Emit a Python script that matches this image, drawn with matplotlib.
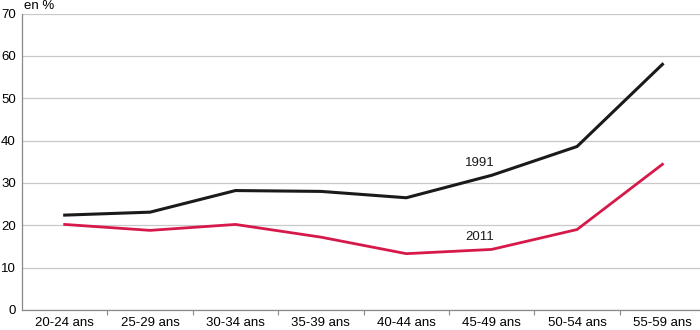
import matplotlib
matplotlib.use("Agg")
import matplotlib.pyplot as plt
import numpy as np

categories = ["20-24 ans", "25-29 ans", "30-34 ans", "35-39 ans",
              "40-44 ans", "45-49 ans", "50-54 ans", "55-59 ans"]
v1991 = [22.4, 23.1, 28.2, 28.0, 26.5, 31.8, 38.6, 58.0]
v2011 = [20.2, 18.8, 20.2, 17.2, 13.3, 14.3, 19.0, 34.4]
yticks = [0, 10, 20, 30, 40, 50, 60, 70]

plt.rcParams['font.family'] = ['Liberation Sans', 'DejaVu Sans']

fig = plt.figure(figsize=(7, 3.3), dpi=100)
ax = fig.add_axes([22/700, 20/330, 678/700, 296.5/330])

x = np.arange(len(categories))
ax.plot(x, v1991, color="#1a1a1a", lw=2.2, solid_joinstyle="miter")
ax.plot(x, v2011, color="#d7194a", lw=2.0, solid_joinstyle="miter")

ax.text(5 - 0.14, 31.8 + 1.6, "1991", fontsize=9.5, ha="center", va="bottom", color="#1a1a1a")
ax.text(5 - 0.14, 14.3 + 1.4, "2011", fontsize=9.5, ha="center", va="bottom", color="#1a1a1a")

ax.set_xlim(-0.5, 7.44)
ax.set_ylim(0, 70)
ax.set_yticks(yticks)
ax.set_yticklabels([str(t) for t in yticks], fontsize=9.5)
ax.tick_params(axis="y", length=0, pad=4.5)
ax.set_xticks(x)
ax.set_xticklabels(categories, fontsize=9.5)
ax.tick_params(axis="x", which="major", length=0, pad=5)
ax.set_xticks(np.arange(0.5, 7.5, 1), minor=True)
ax.tick_params(axis="x", which="minor", length=3.5, color="#888888", width=0.8)

ax.grid(axis="y", color="#c8c8c8", lw=0.9)
ax.set_axisbelow(True)
for s in ["top", "right"]:
    ax.spines[s].set_visible(False)
ax.spines["left"].set_color("#888888")
ax.spines["bottom"].set_color("#888888")
ax.spines["left"].set_linewidth(0.9)
ax.spines["bottom"].set_linewidth(0.9)

fig.text(24/700, 1 - 12/330, "en %", fontsize=9.5, ha="left", va="bottom")

fig.savefig("out.png", dpi=100)
